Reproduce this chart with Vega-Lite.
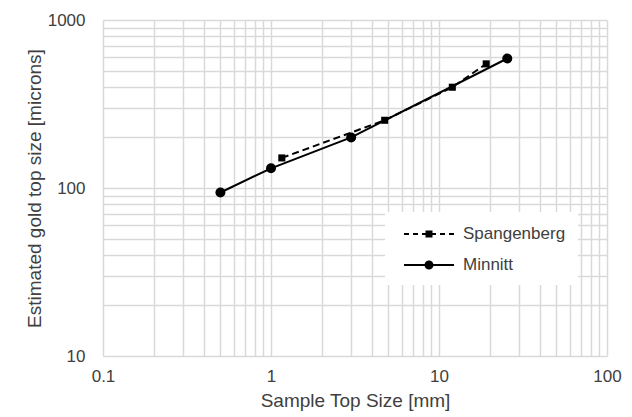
{
  "$schema": "https://vega.github.io/schema/vega-lite/v6.json",
  "width": 504,
  "height": 336,
  "autosize": "none",
  "padding": {"left": 103, "top": 20, "right": 25, "bottom": 61},
  "background": "white",
  "config": {"view": {"stroke": null}, "font": "Liberation Sans"},
  "data": {
    "values": [
      {"series": "Minnitt", "size_mm": 0.5, "gold": 94},
      {"series": "Minnitt", "size_mm": 1, "gold": 131},
      {"series": "Minnitt", "size_mm": 3, "gold": 200},
      {"series": "Minnitt", "size_mm": 25.5, "gold": 590},
      {"series": "Spangenberg", "size_mm": 1.16, "gold": 151},
      {"series": "Spangenberg", "size_mm": 4.75, "gold": 253},
      {"series": "Spangenberg", "size_mm": 12, "gold": 398},
      {"series": "Spangenberg", "size_mm": 19.1, "gold": 548}
    ]
  },
  "encoding": {
    "x": {
      "field": "size_mm",
      "type": "quantitative",
      "scale": {"type": "log", "domain": [0.1, 100], "nice": false},
      "axis": {
        "title": "Sample Top Size [mm]",
        "values": [0.1, 0.2, 0.3, 0.4, 0.5, 0.6, 0.7, 0.8, 0.9, 1, 2, 3, 4, 5, 6, 7, 8, 9, 10, 20, 30, 40, 50, 60, 70, 80, 90, 100],
        "format": "~g",
        "labelExpr": "(datum.value === 0.1 || datum.value === 1 || datum.value === 10 || datum.value === 100) ? datum.label : ''",
        "labelOverlap": false,
        "labelFlush": false,
        "grid": true,
        "gridColor": "#d9d9d9",
        "gridWidth": 1.5,
        "domain": false,
        "ticks": false,
        "tickSize": 0,
        "labelPadding": 12,
        "labelFontSize": 17,
        "labelColor": "#404040",
        "titleFontSize": 19,
        "titleFontWeight": "normal",
        "titleColor": "#404040",
        "titlePadding": 7
      }
    },
    "y": {
      "field": "gold",
      "type": "quantitative",
      "scale": {"type": "log", "domain": [10, 1000], "nice": false},
      "axis": {
        "title": "Estimated gold top size [microns]",
        "values": [10, 20, 30, 40, 50, 60, 70, 80, 90, 100, 200, 300, 400, 500, 600, 700, 800, 900, 1000],
        "format": "~g",
        "labelExpr": "(datum.value === 10 || datum.value === 100 || datum.value === 1000) ? datum.label : ''",
        "labelOverlap": false,
        "labelFlush": false,
        "grid": true,
        "gridColor": "#d9d9d9",
        "gridWidth": 1.5,
        "domain": false,
        "ticks": false,
        "tickSize": 0,
        "labelPadding": 18,
        "labelFontSize": 17,
        "labelColor": "#404040",
        "titleFontSize": 19,
        "titleFontWeight": "normal",
        "titleColor": "#404040",
        "titlePadding": 3
      }
    }
  },
  "layer": [
    {
      "transform": [{"filter": "datum.series === 'Spangenberg'"}],
      "mark": {"type": "line", "color": "black", "strokeWidth": 2, "strokeDash": [7, 4]},
      "encoding": {}
    },
    {
      "transform": [{"filter": "datum.series === 'Minnitt'"}],
      "mark": {"type": "line", "color": "black", "strokeWidth": 2},
      "encoding": {}
    },
    {
      "transform": [{"filter": "datum.series === 'Minnitt'"}],
      "mark": {"type": "point", "shape": "circle", "filled": true, "color": "black", "size": 100, "opacity": 1}
    },
    {
      "transform": [{"filter": "datum.series === 'Spangenberg'"}],
      "mark": {"type": "point", "shape": "square", "filled": true, "color": "black", "size": 50, "opacity": 1}
    },
    {
      "transform": [{"filter": "false"}],
      "mark": {"type": "point", "filled": true, "color": "black", "opacity": 1},
      "encoding": {
        "shape": {
          "field": "series",
          "type": "nominal",
          "scale": {
            "domain": ["Spangenberg", "Minnitt"],
            "range": [
              "M-2.5,-0.09H-2V0.09H-2.5ZM-1.6,-0.09H-1.1V0.09H-1.6ZM-0.7,-0.09H0.7V0.09H-0.7ZM1.1,-0.09H1.6V0.09H1.1ZM2,-0.09H2.5V0.09H2ZM-0.35,-0.35H0.35V0.35H-0.35Z",
              "M-2.5,-0.09H2.5V0.09H-2.5ZM0.45,0A0.45,0.45,0,1,1,-0.45,0A0.45,0.45,0,1,1,0.45,0Z"
            ]
          },
          "legend": {
            "title": null,
            "orient": "none",
            "legendX": 282,
            "legendY": 192,
            "fillColor": "white",
            "padding": 12,
            "symbolSize": 400,
            "symbolStrokeWidth": 0,
            "symbolFillColor": "black",
            "symbolOpacity": 1,
            "symbolOffset": 22,
            "labelOffset": 24,
            "labelFontSize": 17,
            "labelColor": "#404040",
            "labelFont": "Liberation Sans",
            "labelLimit": 300,
            "rowPadding": 13
          }
        }
      }
    }
  ]
}
